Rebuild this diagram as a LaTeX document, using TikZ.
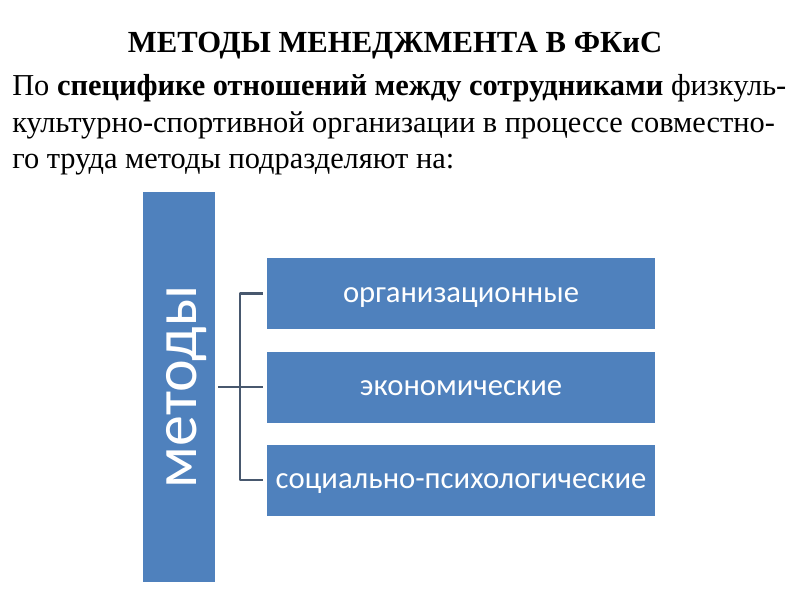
\documentclass[tikz,border=0pt]{standalone}
\usepackage{fontspec}
\setmainfont{Liberation Serif}
\newfontfamily\boxfont{Carlito}
\usepackage{xcolor}
\usetikzlibrary{positioning}
\definecolor{boxblue}{HTML}{4F81BD}
\definecolor{linkgray}{HTML}{48586E}

\begin{document}
\begin{tikzpicture}[x=0.75pt, y=-0.75pt, line cap=round, line join=round,
		bluebox/.style={fill=boxblue, text=white, inner sep=0pt, text height=15pt, text depth=2pt, font=\boxfont\fontsize{23}{25}\selectfont},
		textline/.style={anchor=base west, inner sep=0pt, font=\fontsize{22.8}{27}\selectfont},
		link/.style={draw=linkgray, line width=1.6pt, line cap=butt}]
		\fill[white] (0,0) rectangle (800,600);
		\useasboundingbox (0,0) rectangle (800,600);
		\node[anchor=base, font=\bfseries\fontsize{23}{25}\selectfont] (title) at (395,52) {МЕТОДЫ МЕНЕДЖМЕНТА В ФКиС};
		\node[textline] (line1) at (12,95) {По \textbf{специфике отношений между сотрудниками} физкуль-};
		\node[textline] (line2) at (12,132) {культурно-спортивной организации в процессе совместно-};
		\node[textline] (line3) at (12,168) {го труда методы подразделяют на:};
		\node[fill=boxblue, minimum width=54pt, minimum height=292.5pt] (meth) at (179,387) {};
		\node[text=white, rotate=90, font=\boxfont\fontsize{46.5}{48}\selectfont] (methlabel) at ([xshift=6pt]meth.center) {методы};
		\node[bluebox, minimum width=291pt, minimum height=53.25pt] (org) at (461,293.5) {организационные};
		\node[bluebox, minimum width=291pt, minimum height=53.25pt] (eco) at (461,387) {экономические};
		\node[bluebox, minimum width=291pt, minimum height=53.25pt] (soc) at (461,480) {социально-психологические};
		\coordinate (hub) at (240,387);
		\draw[link, shorten <=3pt, shorten >=3pt] (org.west) -| (hub) |- (soc.west);
		\draw[link, shorten <=2pt, shorten >=3pt] (meth.east) -- (eco.west);
	\end{tikzpicture}
\end{document}
